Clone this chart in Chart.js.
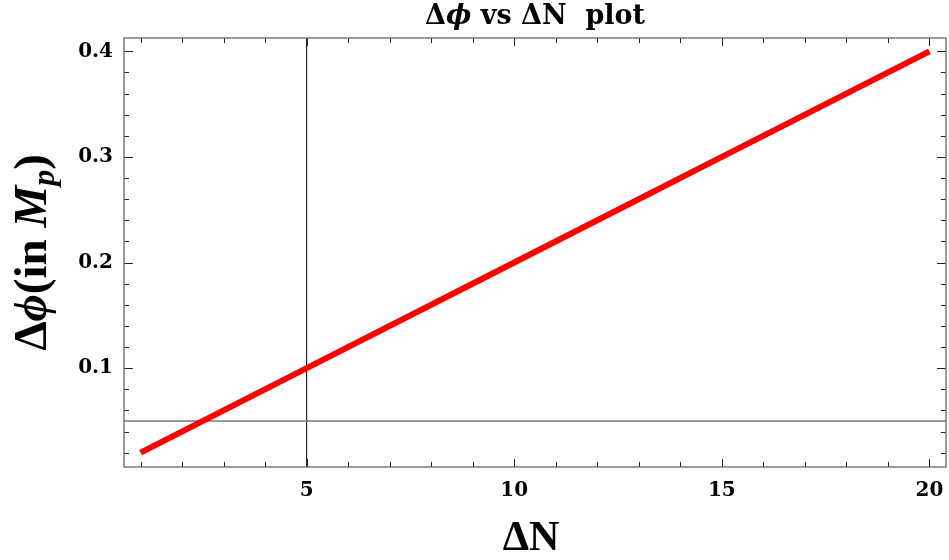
<!DOCTYPE html>
<html>
<head>
<meta charset="utf-8">
<script src="https://cdn.jsdelivr.net/npm/chart.js@4"></script>
<style>
    html, body { margin: 0; padding: 0; background: #fff; }
    #wrap { width: 949px; height: 560px; }
</style>
</head>
<body>
<div id="wrap"><canvas id="chart" width="949" height="560"></canvas></div>
<script>
// データ (ΔN と Δϕ)
const deltaN = [1, 5, 10, 15, 20];
const deltaPhi = [0.02, 0.1, 0.2, 0.3, 0.4];

// 軸の交点 (Mathematica の Axes の位置)
const axisCrossX = 5;
const axisCrossY = 0.05;

// 表示範囲
const xRange = [0.6, 20.4];
const yRange = [0.0064, 0.4126];

// 目盛り
const xTicks = [1, 2, 3, 4, 5, 6, 7, 8, 9, 10, 11, 12, 13, 14, 15, 16, 17, 18, 19, 20];
const xLabels = [5, 10, 15, 20];
const yTicks = [0.02, 0.04, 0.06, 0.08, 0.1, 0.12, 0.14, 0.16, 0.18, 0.2,
                0.22, 0.24, 0.26, 0.28, 0.3, 0.32, 0.34, 0.36, 0.38, 0.4];
const yLabels = [0.1, 0.2, 0.3, 0.4];

const SERIF = '"Liberation Serif", "Times New Roman", "DejaVu Serif", serif';
const WIDE_SERIF = '"DejaVu Serif", "Liberation Serif", serif';

function isLabel(list, v) {
    return list.some(l => Math.abs(l - v) < 1e-9);
}

// 太字・斜体が混ざったテキストを描く
function drawRuns(ctx, runs, cx, baseline) {
    let total = 0;
    runs.forEach(r => {
        ctx.font = r.font;
        r.w = ctx.measureText(r.text).width;
        total += r.w;
    });
    let x = cx - total / 2;
    ctx.textAlign = 'left';
    ctx.textBaseline = 'alphabetic';
    runs.forEach(r => {
        ctx.font = r.font;
        ctx.fillText(r.text, x, baseline + (r.dy || 0));
        x += r.w;
    });
}

// 枠・内向き目盛り・タイトル
const framePlugin = {
    id: 'frame',
    afterDraw(chart) {
        const ctx = chart.ctx;
        const a = chart.chartArea;
        const xs = chart.scales.x;
        const ys = chart.scales.y;
        ctx.save();

        // 目盛り
        ctx.strokeStyle = '#222';
        ctx.lineWidth = 1;
        ctx.beginPath();
        xTicks.forEach(v => {
            const px = Math.round(xs.getPixelForValue(v)) + 0.5;
            const len = isLabel(xLabels, v) ? 8 : 5;
            ctx.moveTo(px, a.bottom); ctx.lineTo(px, a.bottom - len);
            ctx.moveTo(px, a.top); ctx.lineTo(px, a.top + len);
        });
        yTicks.forEach(v => {
            const py = Math.round(ys.getPixelForValue(v)) + 0.5;
            const len = isLabel(yLabels, v) ? 9 : 5;
            ctx.moveTo(a.left, py); ctx.lineTo(a.left + len, py);
            ctx.moveTo(a.right, py); ctx.lineTo(a.right - len, py);
        });
        ctx.stroke();

        // 枠
        ctx.strokeStyle = '#666';
        ctx.lineWidth = 1.3;
        ctx.strokeRect(a.left, a.top, a.right - a.left, a.bottom - a.top);

        ctx.fillStyle = '#000';
        const cx = (a.left + a.right) / 2;

        // タイトル
        drawRuns(ctx, [
            { text: 'Δ', font: 'bold 27px ' + WIDE_SERIF },
            { text: 'ϕ', font: 'italic bold 27px ' + WIDE_SERIF },
            { text: ' vs ΔN  plot', font: 'bold 27px ' + WIDE_SERIF }
        ], cx, 24);

        // x 軸タイトル
        drawRuns(ctx, [
            { text: 'ΔN', font: 'bold 42px ' + SERIF }
        ], cx - 4, 550);

        // y 軸タイトル (回転)
        ctx.translate(46, (a.top + a.bottom) / 2);
        ctx.rotate(-Math.PI / 2);
        drawRuns(ctx, [
            { text: 'Δ', font: 'bold 47px ' + SERIF },
            { text: 'ϕ', font: 'italic bold 47px ' + SERIF },
            { text: '(in ', font: 'bold 47px ' + SERIF },
            { text: 'M', font: 'italic bold 47px ' + SERIF },
            { text: 'p', font: 'italic bold 32px ' + SERIF, dy: 8 },
            { text: ')', font: 'bold 47px ' + SERIF }
        ], 0, 0);

        ctx.restore();
    }
};

const tickFont = { family: WIDE_SERIF, size: 20, weight: 'bold' };

new Chart(document.getElementById('chart'), {
    type: 'line',
    data: {
        datasets: [
            {
                data: deltaN.map((n, i) => ({ x: n, y: deltaPhi[i] })),
                borderColor: '#ff0000',
                borderWidth: 6,
                borderCapStyle: 'butt',
                pointRadius: 0,
                fill: false,
                order: 0
            },
            {
                data: [{ x: xRange[0], y: axisCrossY }, { x: xRange[1], y: axisCrossY }],
                borderColor: '#777',
                borderWidth: 1.5,
                pointRadius: 0,
                clip: 0,
                order: 1
            },
            {
                data: [{ x: axisCrossX, y: yRange[0] }, { x: axisCrossX, y: yRange[1] }],
                borderColor: '#000',
                borderWidth: 1,
                pointRadius: 0,
                clip: 0,
                order: 1
            }
        ]
    },
    options: {
        responsive: false,
        animation: false,
        devicePixelRatio: 1,
        layout: { padding: { top: 38, right: 3, left: 0, bottom: 0 } },
        plugins: {
            legend: { display: false },
            tooltip: { enabled: false },
            title: { display: false }
        },
        scales: {
            x: {
                type: 'linear',
                min: xRange[0],
                max: xRange[1],
                afterBuildTicks: (axis) => { axis.ticks = xTicks.map(v => ({ value: v })); },
                afterFit: (scale) => {
                    scale.height = 93;
                    scale.paddingLeft = 0;
                    scale.paddingRight = 0;
                },
                grid: { display: false, drawTicks: false },
                border: { display: false },
                ticks: {
                    autoSkip: false,
                    maxRotation: 0,
                    padding: 12,
                    color: '#000',
                    font: tickFont,
                    callback: (v) => isLabel(xLabels, v) ? String(v) : ''
                }
            },
            y: {
                type: 'linear',
                min: yRange[0],
                max: yRange[1],
                afterBuildTicks: (axis) => { axis.ticks = yTicks.map(v => ({ value: v })); },
                afterFit: (scale) => {
                    scale.width = 124;
                    scale.paddingTop = 0;
                    scale.paddingBottom = 0;
                },
                grid: { display: false, drawTicks: false },
                border: { display: false },
                ticks: {
                    autoSkip: false,
                    padding: 11,
                    color: '#000',
                    font: tickFont,
                    callback: (v) => isLabel(yLabels, v) ? v.toFixed(1) : ''
                }
            }
        }
    },
    plugins: [framePlugin]
});
</script>
</body>
</html>
